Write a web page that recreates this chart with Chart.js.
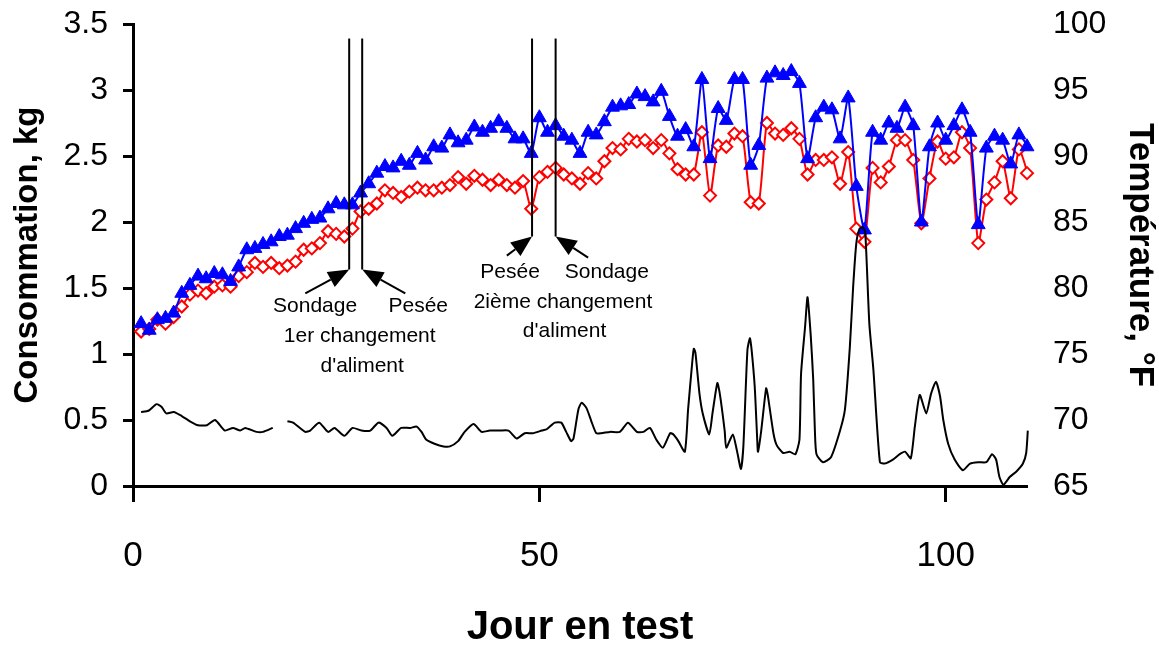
<!DOCTYPE html>
<html>
<head>
<meta charset="utf-8">
<script src="https://cdn.jsdelivr.net/npm/chart.js@4.4.1/dist/chart.umd.min.js"></script>
<style>
  html, body { margin: 0; padding: 0; background: #fff; }
  #wrap { width: 1159px; height: 646px; position: relative; }
</style>
</head>
<body>
<div id="wrap"><canvas id="c" width="1159" height="646"></canvas></div>
<script>
// ---------- DATA ----------
const days = [1,2,3,4,5,6,7,8,9,10,11,12,13,14,15,16,17,18,19,20,
  21,22,23,24,25,26,27,28,29,30,31,32,33,34,35,36,37,38,39,40,
  41,42,43,44,45,46,47,48,49,50,51,52,53,54,55,56,57,58,59,60,
  61,62,63,64,65,66,67,68,69,70,71,72,73,74,75,76,77,78,79,80,
  81,82,83,84,85,86,87,88,89,90,91,92,93,94,95,96,97,98,99,100,
  101,102,103,104,105,106,107,108,109,110,110.75];

const blueIntake = [1.23,1.18,1.26,1.27,1.31,1.46,1.52,1.59,1.57,1.61,
  1.60,1.55,1.66,1.79,1.80,1.83,1.85,1.89,1.90,1.95,
  1.99,2.02,2.03,2.10,2.14,2.13,2.13,2.22,2.29,2.37,
  2.42,2.41,2.46,2.43,2.52,2.47,2.57,2.56,2.66,2.60,
  2.62,2.72,2.68,2.71,2.76,2.71,2.63,2.63,2.52,2.79,
  2.68,2.73,2.65,2.62,2.52,2.68,2.66,2.76,2.87,2.88,
  2.89,2.97,2.95,2.91,2.99,2.80,2.65,2.70,2.57,3.08,
  2.48,2.86,2.77,3.08,3.08,2.43,2.58,3.09,3.13,3.11,
  3.14,3.05,2.48,2.79,2.87,2.85,2.63,2.94,2.27,1.94,
  2.68,2.62,2.75,2.71,2.87,2.73,2.00,2.57,2.75,2.62,
  2.73,2.85,2.68,1.98,2.56,2.65,2.62,2.44,2.66,2.57,1.65];

const redIntake = [1.17,1.19,1.26,1.23,1.28,1.36,1.45,1.48,1.46,1.51,
  1.52,1.51,1.59,1.62,1.69,1.66,1.69,1.65,1.67,1.70,
  1.79,1.80,1.84,1.93,1.91,1.89,1.95,2.08,2.10,2.14,
  2.24,2.22,2.19,2.23,2.26,2.24,2.24,2.26,2.28,2.34,
  2.29,2.35,2.32,2.28,2.32,2.28,2.26,2.31,2.10,2.34,
  2.38,2.41,2.36,2.33,2.29,2.37,2.33,2.46,2.56,2.55,
  2.63,2.61,2.62,2.56,2.62,2.52,2.40,2.36,2.36,2.68,
  2.20,2.58,2.57,2.67,2.65,2.15,2.14,2.75,2.67,2.66,
  2.71,2.63,2.36,2.47,2.47,2.49,2.29,2.53,1.95,1.85,
  2.41,2.30,2.42,2.62,2.62,2.47,1.99,2.33,2.61,2.48,
  2.49,2.68,2.56,1.84,2.17,2.30,2.46,2.18,2.55,2.37,1.51];

const tempDays = [1.0,1.9,2.9,3.5,4.1,5.0,6.0,7.0,8.0,9.1,10.1,11.3,12.3,13.2,13.8,15.2,16.0,17.2,18.1,
  19.0,19.7,21.2,21.8,22.9,24.0,24.8,26.0,27.0,28.1,29.2,30.2,31.2,31.9,33.0,34.1,34.9,35.5,36.1,
  37.1,38.2,39.0,40.0,40.8,41.9,42.9,43.9,45.1,46.2,47.2,48.2,49.2,50.3,50.9,51.9,52.7,53.3,53.9,
  54.2,54.8,55.2,55.8,56.4,57.0,57.6,58.7,59.9,60.9,62.0,62.8,63.6,64.4,65.2,66.1,66.5,67.1,67.9,
  68.3,68.8,69.0,69.2,69.7,70.1,70.9,71.3,71.9,72.2,72.8,73.0,73.8,74.3,74.8,75.1,75.6,75.9,76.1,
  76.5,76.8,76.9,77.3,77.9,78.1,78.8,79.2,80.0,80.8,81.5,82.0,82.2,82.7,83.0,83.4,83.7,83.9,84.1,
  84.9,85.9,87.0,87.6,88.2,88.6,89.0,89.4,89.8,90.1,90.6,91.1,91.9,92.5,93.5,94.3,95.0,95.7,96.2,
  96.8,97.6,98.2,98.8,99.3,99.7,100.3,101.1,102.1,103.0,104.0,105.0,105.7,106.2,106.6,107.1,107.9,
  108.7,109.5,109.9,110.1];

const tempF = [70.6,70.7,71.2,71.0,70.5,70.6,70.3,69.9,69.6,69.6,70.0,69.2,69.4,69.2,69.4,69.1,69.1,69.4,null,
  69.9,69.8,69.1,69.2,69.8,69.1,69.4,68.8,69.4,69.2,69.2,69.8,69.4,68.8,69.4,69.4,69.5,69.1,68.5,
  68.2,68.0,68.0,68.4,69.1,69.7,69.1,69.2,69.2,69.2,68.6,69.0,69.0,69.2,69.3,69.8,69.8,69.1,68.4,
  68.6,70.8,71.3,70.9,69.9,69.0,69.0,69.1,69.1,69.8,69.1,69.1,69.4,68.5,67.9,69.0,68.9,68.4,67.6,
  70.8,74.3,75.4,75.1,72.0,70.5,68.9,70.5,72.8,72.0,69.2,67.9,68.9,67.7,66.3,68.0,75.3,76.2,75.4,
  72.5,68.6,67.6,69.2,72.4,71.9,69.0,68.1,67.5,67.6,67.4,68.5,73.5,77.1,79.3,76.3,73.0,69.2,67.4,
  66.8,67.2,69.2,70.8,75.5,80.0,83.4,84.5,84.6,84.2,77.3,73.8,66.8,66.7,67.0,67.4,67.6,67.1,69.5,
  71.9,70.5,72.0,72.9,71.8,70.0,68.2,67.0,66.2,66.7,66.8,66.8,67.4,67.0,65.7,65.1,65.7,
  66.1,66.7,67.5,69.2];

const xTickValues = [0, 50, 100];
const leftTickValues = [0, 0.5, 1, 1.5, 2, 2.5, 3, 3.5];
const rightTickValues = [65, 70, 75, 80, 85, 90, 95, 100];

// event markers (days) and their labels
const eventDays = [26.6, 28.2, 49.1, 52.0];
const eventNames = ['Sondage', 'Pesée', 'Pesée', 'Sondage'];
const changeLabels = [['1er changement', "d'aliment"], ['2ième changement', "d'aliment"]];

// ---------- LAYOUT OF ANNOTATIONS (data units) ----------
const noteLayout = {
  lineTop: 3.39,
  lineBottoms: [1.64, 1.64, 1.89, 1.89],
  arrowTails: [[21.2, 1.46], [33.5, 1.46], [46.0, 1.745], [56.0, 1.73]],
  nameAt: [[22.4, 1.364], [35.1, 1.364], [46.4, 1.62], [58.3, 1.62]],
  changeAt: [[[27.9, 1.136], [28.2, 0.909]], [[52.9, 1.39], [53.1, 1.17]]]
};

const FONT = "'Liberation Sans', Arial, Helvetica, sans-serif";

const annotationPlugin = {
  id: 'notes',
  afterDatasetsDraw(chart) {
    const ctx = chart.ctx;
    const xs = chart.scales.x, ys = chart.scales.y;
    const px = v => xs.getPixelForValue(v);
    const py = v => ys.getPixelForValue(v);
    ctx.save();
    ctx.strokeStyle = '#000';
    ctx.fillStyle = '#000';
    ctx.lineWidth = 2;
    eventDays.forEach((d, i) => {
      ctx.beginPath();
      ctx.moveTo(px(d), py(noteLayout.lineTop));
      ctx.lineTo(px(d), py(noteLayout.lineBottoms[i]));
      ctx.stroke();
    });
    eventDays.forEach((d, i) => {
      const tx = px(d), ty = py(noteLayout.lineBottoms[i]);
      const fx = px(noteLayout.arrowTails[i][0]), fy = py(noteLayout.arrowTails[i][1]);
      const ang = Math.atan2(ty - fy, tx - fx);
      const L = 21, W = 8.5;
      const bx = tx - L * Math.cos(ang), by = ty - L * Math.sin(ang);
      ctx.beginPath();
      ctx.moveTo(fx, fy);
      ctx.lineTo(bx, by);
      ctx.stroke();
      ctx.beginPath();
      ctx.moveTo(tx, ty);
      ctx.lineTo(bx + W * Math.sin(ang), by - W * Math.cos(ang));
      ctx.lineTo(bx - W * Math.sin(ang), by + W * Math.cos(ang));
      ctx.closePath();
      ctx.fill();
    });
    ctx.font = '21px ' + FONT;
    ctx.textAlign = 'center';
    ctx.textBaseline = 'middle';
    eventNames.forEach((t, i) => {
      ctx.fillText(t, px(noteLayout.nameAt[i][0]), py(noteLayout.nameAt[i][1]));
    });
    changeLabels.forEach((lines, k) => {
      lines.forEach((t, j) => {
        const p = noteLayout.changeAt[k][j];
        ctx.fillText(t, px(p[0]), py(p[1]));
      });
    });
    ctx.restore();
  }
};

const toPts = (xsArr, ysArr) => xsArr.map((x, i) => ({ x: x, y: ysArr[i] }));
const lastDay = 110;

new Chart(document.getElementById('c'), {
  type: 'line',
  data: {
    datasets: [
      {
        label: 'Température',
        data: toPts(tempDays, tempF),
        yAxisID: 'y2',
        borderColor: '#000',
        borderWidth: 2,
        pointRadius: 0,
        tension: 0.2,
        spanGaps: false,
        clip: false
      },
      {
        label: 'Consommation A',
        data: toPts(days, blueIntake),
        yAxisID: 'y',
        borderColor: '#0000FF',
        backgroundColor: '#0000FF',
        borderWidth: 2,
        pointStyle: 'triangle',
        pointRadius: c => (c.raw && c.raw.x > lastDay ? 0 : 8),
        pointBorderColor: '#0000FF',
        pointBackgroundColor: '#0000FF',
        pointBorderWidth: 1,
        tension: 0.2,
        clip: false
      },
      {
        label: 'Consommation B',
        data: toPts(days, redIntake),
        yAxisID: 'y',
        borderColor: '#FF0000',
        backgroundColor: '#FFFFFF',
        borderWidth: 2,
        pointStyle: 'rectRot',
        pointRadius: c => (c.raw && c.raw.x > lastDay ? 0 : 6),
        pointBorderColor: '#FF0000',
        pointBackgroundColor: '#FFFFFF',
        pointBorderWidth: 2,
        tension: 0.2,
        clip: false
      }
    ]
  },
  options: {
    responsive: false,
    animation: false,
    devicePixelRatio: 1,
    layout: { padding: { top: 24, left: 0, right: 0, bottom: 0 } },
    plugins: { legend: { display: false }, tooltip: { enabled: false } },
    scales: {
      x: {
        type: 'linear',
        position: 'bottom',
        min: 0,
        max: 110,
        afterBuildTicks: s => { s.ticks = xTickValues.map(v => ({ value: v })); },
        afterFit: s => { s.height = 160; },
        grid: { display: true, drawOnChartArea: false, drawTicks: true, tickLength: 16, tickWidth: 3, tickColor: '#000', color: '#000' },
        border: { display: true, color: '#000', width: 3 },
        ticks: { color: '#000', font: { family: FONT, size: 35 }, padding: 33, maxRotation: 0, autoSkip: false, callback: v => String(v) },
        title: { display: true, text: 'Jour en test', color: '#000', font: { family: FONT, size: 40, weight: 'bold', lineHeight: 0.9 }, padding: { top: 0, bottom: 0 } }
      },
      y: {
        type: 'linear',
        position: 'left',
        min: 0,
        max: 3.5,
        afterBuildTicks: s => { s.ticks = leftTickValues.map(v => ({ value: v })); },
        afterFit: s => { s.width = 133; },
        grid: { display: true, drawOnChartArea: false, drawTicks: true, tickLength: 10, tickWidth: 3, tickColor: '#000', color: '#000' },
        border: { display: true, color: '#000', width: 3 },
        ticks: { color: '#000', font: { family: FONT, size: 32, lineHeight: 0.5 }, padding: 15, autoSkip: false, callback: v => String(v) },
        title: { display: true, text: 'Consommation, kg', color: '#000', font: { family: FONT, size: 33, weight: 'bold', lineHeight: 1.2 }, padding: { top: 8, bottom: 0 } }
      },
      y2: {
        type: 'linear',
        position: 'right',
        min: 65,
        max: 100,
        afterBuildTicks: s => { s.ticks = rightTickValues.map(v => ({ value: v })); },
        afterFit: s => { s.width = 132; },
        grid: { display: true, drawOnChartArea: false, drawTicks: true, tickLength: 26, tickWidth: 0, tickColor: 'rgba(0,0,0,0)', color: 'rgba(0,0,0,0)' },
        border: { display: false },
        ticks: { color: '#000', font: { family: FONT, size: 32, lineHeight: 0.5 }, padding: 0, autoSkip: false, callback: v => String(v) },
        title: { display: true, text: 'Température, °F', color: '#000', font: { family: FONT, size: 35, weight: 'bold', lineHeight: 1.1 }, padding: { top: 0, bottom: 0 } }
      }
    }
  },
  plugins: [annotationPlugin]
});
</script>
</body>
</html>
